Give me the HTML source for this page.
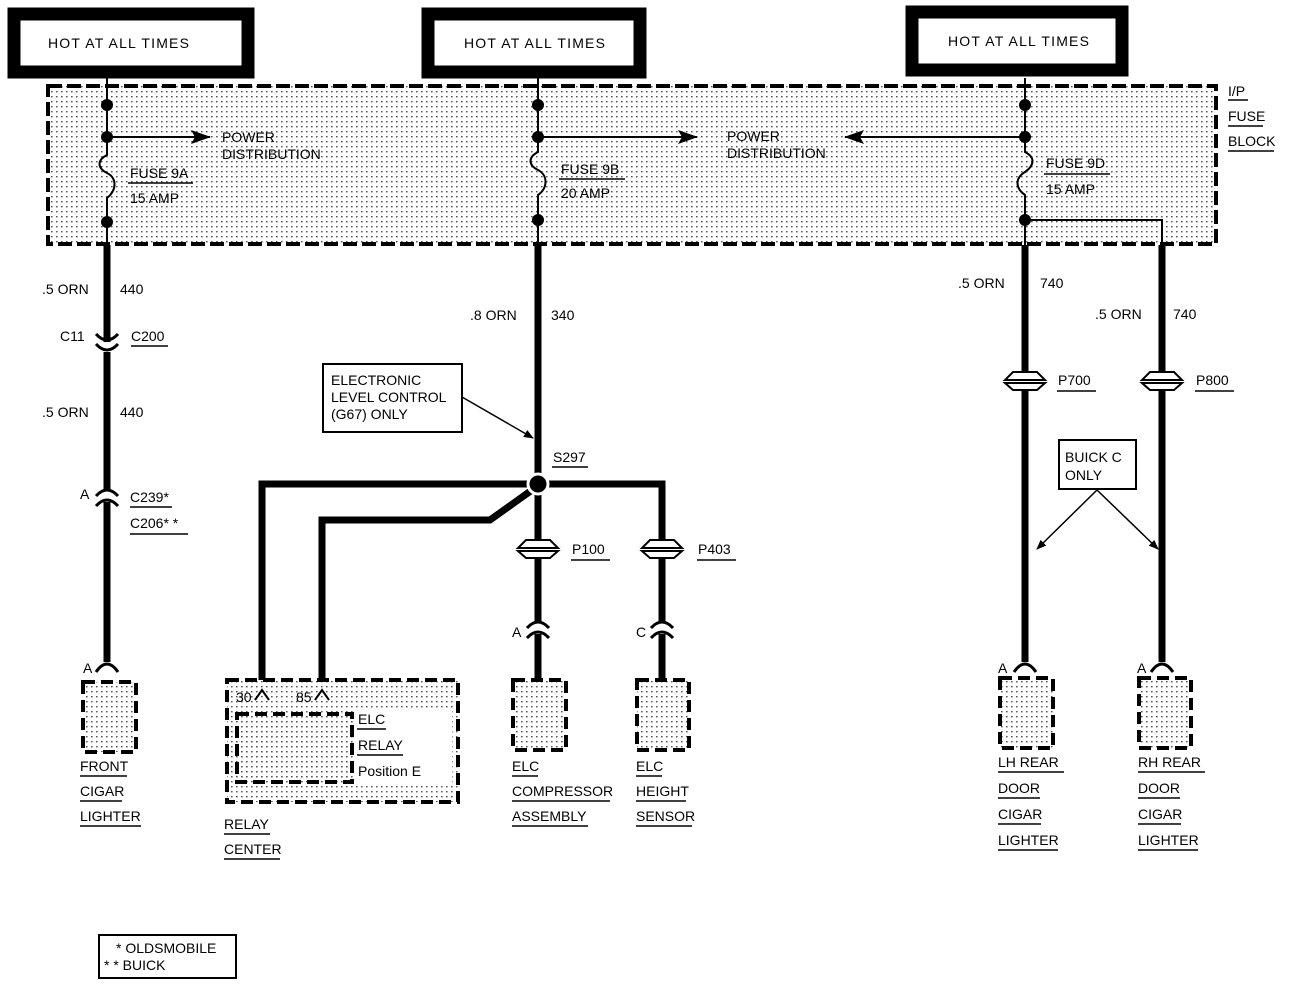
<!DOCTYPE html>
<html><head><meta charset="utf-8"><style>
html,body{margin:0;padding:0;background:#fff;}
svg{display:block;}
text{font-family:"Liberation Sans",sans-serif;font-size:14px;fill:#000;}
.hot{letter-spacing:1.2px;}
</style></head><body>
<svg width="1296" height="986" viewBox="0 0 1296 986" xmlns="http://www.w3.org/2000/svg">
<defs>
<pattern id="dots" width="5" height="5" patternUnits="userSpaceOnUse">
<rect x="1" y="1" width="1.6" height="1.4" fill="#555"/>
</pattern>
<marker id="ah" markerWidth="10" markerHeight="8" refX="9" refY="4" orient="auto" markerUnits="userSpaceOnUse"><path d="M0,0 L10,4 L0,8 z" fill="#000"/></marker>
<marker id="ahb" markerWidth="20" markerHeight="14" refX="19" refY="7" orient="auto" markerUnits="userSpaceOnUse"><path d="M0,0 L20,7 L0,14 L4,7 z" fill="#000"/></marker>
</defs>

<rect x="14" y="14" width="234" height="58" fill="#fff" stroke="#000" stroke-width="13"/>
<text class="hot" x="48" y="48">HOT AT ALL TIMES</text>
<rect x="428" y="14" width="212" height="58" fill="#fff" stroke="#000" stroke-width="13"/>
<text class="hot" x="464" y="48">HOT AT ALL TIMES</text>
<rect x="912" y="12" width="210" height="58" fill="#fff" stroke="#000" stroke-width="13"/>
<text class="hot" x="948" y="46">HOT AT ALL TIMES</text>

<rect x="48" y="86" width="1168" height="158" fill="url(#dots)" stroke="#000" stroke-width="4" stroke-dasharray="14,5"/>
<text x="1228" y="96">I/P</text><line x1="1228" y1="100" x2="1248" y2="100" stroke="#000" stroke-width="1.5"/>
<text x="1228" y="121">FUSE</text><line x1="1228" y1="126" x2="1263" y2="126" stroke="#000" stroke-width="1.5"/>
<text x="1228" y="146">BLOCK</text><line x1="1228" y1="151" x2="1274" y2="151" stroke="#000" stroke-width="1.5"/>

<g stroke="#000" stroke-width="2" fill="none">
<path d="M107,78 V155 C97,160 97,168 107,173 C117,178 117,190 107,198 V245"/>
<path d="M538,78 V152 C528,157 528,165 538,170 C548,175 548,188 538,195 V245"/>
<path d="M1025,78 V152 C1035,157 1035,165 1025,172 C1015,178 1015,188 1025,195 V245"/>
<path d="M1025,220 H1162 V245"/>
<line x1="107" y1="137" x2="210" y2="137" marker-end="url(#ahb)"/>
<line x1="538" y1="137" x2="697" y2="137" marker-end="url(#ahb)"/>
<line x1="1025" y1="137" x2="845" y2="137" marker-end="url(#ahb)"/>
</g>
<g fill="#000">
<circle cx="107" cy="105" r="6"/><circle cx="107" cy="137" r="6"/><circle cx="107" cy="222" r="6"/>
<circle cx="538" cy="105" r="6"/><circle cx="538" cy="137" r="6"/><circle cx="538" cy="220" r="6"/>
<circle cx="1025" cy="105" r="6"/><circle cx="1025" cy="137" r="6"/><circle cx="1025" cy="220" r="6"/>
</g>
<text x="222" y="142">POWER</text><text x="222" y="159">DISTRIBUTION</text>
<text x="727" y="141">POWER</text><text x="727" y="158">DISTRIBUTION</text>
<text x="130" y="178">FUSE 9A</text><line x1="128" y1="183" x2="193" y2="183" stroke="#000" stroke-width="1.5"/>
<text x="130" y="203">15 AMP</text>
<text x="561" y="174">FUSE 9B</text><line x1="559" y1="179" x2="625" y2="179" stroke="#000" stroke-width="1.5"/>
<text x="561" y="198">20 AMP</text>
<text x="1046" y="168">FUSE 9D</text><line x1="1044" y1="174" x2="1110" y2="174" stroke="#000" stroke-width="1.5"/>
<text x="1046" y="194">15 AMP</text>

<g stroke="#000" stroke-width="7" fill="none">
<line x1="107" y1="245" x2="107" y2="342"/>
<line x1="107" y1="352" x2="107" y2="490"/>
<line x1="107" y1="502" x2="107" y2="662"/>
<line x1="538" y1="245" x2="538" y2="484"/>
<path d="M538,484 H262 V680"/>
<path d="M532,490 L490,520 H322 V680"/>
<path d="M538,484 H662 V540"/>
<line x1="538" y1="484" x2="538" y2="540"/>
<line x1="538" y1="558" x2="538" y2="622"/>
<line x1="662" y1="558" x2="662" y2="622"/>
<line x1="538" y1="634" x2="538" y2="680"/>
<line x1="662" y1="634" x2="662" y2="680"/>
<line x1="1025" y1="245" x2="1025" y2="372"/>
<line x1="1025" y1="390" x2="1025" y2="662"/>
<line x1="1162" y1="245" x2="1162" y2="372"/>
<line x1="1162" y1="390" x2="1162" y2="662"/>
</g>
<circle cx="538" cy="484" r="10" fill="#000" stroke="#fff" stroke-width="3"/>

<g stroke="#000" stroke-width="3" fill="none">
<path d="M96,334 Q107,346 118,334"/><path d="M96,344 Q107,356 118,344"/>
<path d="M96,496 Q107,484 118,496"/><path d="M96,506 Q107,494 118,506"/>
<path d="M527,628 Q538,616 549,628"/><path d="M527,638 Q538,626 549,638"/>
<path d="M651,628 Q662,616 673,628"/><path d="M651,638 Q662,626 673,638"/>
<path d="M96,672 Q107,656 118,672"/>
<path d="M1014,672 Q1025,656 1036,672"/>
<path d="M1151,672 Q1162,656 1173,672"/>
</g>
<g stroke="#000" stroke-width="2" fill="#fff">
<path d="M526,540 H550 L558,548 H518 Z"/><path d="M518,551 H558 L550,558 H526 Z"/>
<path d="M650,540 H674 L682,548 H642 Z"/><path d="M642,551 H682 L674,558 H650 Z"/>
<path d="M1013,372 H1037 L1045,380 H1005 Z"/><path d="M1005,383 H1045 L1037,390 H1013 Z"/>
<path d="M1150,372 H1174 L1182,380 H1142 Z"/><path d="M1142,383 H1182 L1174,390 H1150 Z"/>
</g>

<text x="42" y="294">.5 ORN</text><text x="120" y="294">440</text>
<text x="60" y="341">C11</text><text x="131" y="341">C200</text><line x1="131" y1="346" x2="168" y2="346" stroke="#000" stroke-width="1.5"/>
<text x="42" y="417">.5 ORN</text><text x="120" y="417">440</text>
<text x="80" y="499">A</text>
<text x="130" y="502">C239*</text><line x1="130" y1="507" x2="172" y2="507" stroke="#000" stroke-width="1.5"/>
<text x="130" y="528">C206* *</text><line x1="130" y1="534" x2="188" y2="534" stroke="#000" stroke-width="1.5"/>
<text x="470" y="320">.8 ORN</text><text x="551" y="320">340</text>
<text x="958" y="288">.5 ORN</text><text x="1040" y="288">740</text>
<text x="1095" y="319">.5 ORN</text><text x="1173" y="319">740</text>
<text x="553" y="462">S297</text><line x1="552" y1="467" x2="588" y2="467" stroke="#000" stroke-width="1.5"/>
<text x="572" y="554">P100</text><line x1="571" y1="560" x2="610" y2="560" stroke="#000" stroke-width="1.5"/>
<text x="698" y="554">P403</text><line x1="697" y1="560" x2="736" y2="560" stroke="#000" stroke-width="1.5"/>
<text x="1058" y="385">P700</text><line x1="1057" y1="391" x2="1096" y2="391" stroke="#000" stroke-width="1.5"/>
<text x="1196" y="385">P800</text><line x1="1195" y1="391" x2="1234" y2="391" stroke="#000" stroke-width="1.5"/>
<text x="512" y="637">A</text><text x="636" y="637">C</text>
<text x="83" y="673">A</text><text x="998" y="673">A</text><text x="1137" y="673">A</text>

<rect x="323" y="364" width="139" height="68" fill="#fff" stroke="#000" stroke-width="2"/>
<text x="331" y="385">ELECTRONIC</text><text x="331" y="402">LEVEL CONTROL</text><text x="331" y="419">(G67) ONLY</text>
<line x1="462" y1="397" x2="533" y2="438" stroke="#000" stroke-width="1.5" marker-end="url(#ah)"/>
<rect x="1059" y="440" width="77" height="49" fill="#fff" stroke="#000" stroke-width="2"/>
<text x="1065" y="462">BUICK C</text><text x="1065" y="480">ONLY</text>
<line x1="1097" y1="490" x2="1037" y2="549" stroke="#000" stroke-width="1.5" marker-end="url(#ah)"/>
<line x1="1097" y1="490" x2="1158" y2="549" stroke="#000" stroke-width="1.5" marker-end="url(#ah)"/>

<g stroke="#000" stroke-width="4" stroke-dasharray="12,6" fill="url(#dots)">
<rect x="83" y="682" width="53" height="70"/>
<rect x="513" y="680" width="53" height="70"/>
<rect x="637" y="680" width="52" height="70"/>
<rect x="1000" y="678" width="53" height="70"/>
<rect x="1139" y="678" width="52" height="70"/>
<rect x="227" y="680" width="231" height="122"/>
<rect x="237" y="714" width="115" height="68"/>
</g>
<rect x="356" y="708" width="96" height="76" fill="#fff"/>
<g stroke="#000" stroke-width="2" fill="none">
<path d="M255,700 L262,690 L269,700"/><path d="M315,700 L322,690 L329,700"/>
</g>
<text x="236" y="702">30</text><text x="296" y="702">85</text>
<text x="358" y="724">ELC</text><line x1="357" y1="729" x2="386" y2="729" stroke="#000" stroke-width="1.5"/>
<text x="358" y="750">RELAY</text><line x1="357" y1="755" x2="403" y2="755" stroke="#000" stroke-width="1.5"/>
<text x="358" y="776">Position E</text>

<g>
<text x="80" y="771">FRONT</text><line x1="80" y1="776" x2="127" y2="776" stroke="#000" stroke-width="1.5"/>
<text x="80" y="796">CIGAR</text><line x1="80" y1="801" x2="122" y2="801" stroke="#000" stroke-width="1.5"/>
<text x="80" y="821">LIGHTER</text><line x1="80" y1="826" x2="141" y2="826" stroke="#000" stroke-width="1.5"/>
<text x="224" y="829">RELAY</text><line x1="224" y1="834" x2="270" y2="834" stroke="#000" stroke-width="1.5"/>
<text x="224" y="854">CENTER</text><line x1="224" y1="859" x2="280" y2="859" stroke="#000" stroke-width="1.5"/>
<text x="512" y="771">ELC</text><line x1="512" y1="776" x2="538" y2="776" stroke="#000" stroke-width="1.5"/>
<text x="512" y="796">COMPRESSOR</text><line x1="512" y1="801" x2="610" y2="801" stroke="#000" stroke-width="1.5"/>
<text x="512" y="821">ASSEMBLY</text><line x1="512" y1="826" x2="588" y2="826" stroke="#000" stroke-width="1.5"/>
<text x="636" y="771">ELC</text><line x1="636" y1="776" x2="662" y2="776" stroke="#000" stroke-width="1.5"/>
<text x="636" y="796">HEIGHT</text><line x1="636" y1="801" x2="686" y2="801" stroke="#000" stroke-width="1.5"/>
<text x="636" y="821">SENSOR</text><line x1="636" y1="826" x2="692" y2="826" stroke="#000" stroke-width="1.5"/>
<text x="998" y="767">LH REAR</text><line x1="998" y1="772" x2="1064" y2="772" stroke="#000" stroke-width="1.5"/>
<text x="998" y="793">DOOR</text><line x1="998" y1="798" x2="1040" y2="798" stroke="#000" stroke-width="1.5"/>
<text x="998" y="819">CIGAR</text><line x1="998" y1="824" x2="1041" y2="824" stroke="#000" stroke-width="1.5"/>
<text x="998" y="845">LIGHTER</text><line x1="998" y1="850" x2="1058" y2="850" stroke="#000" stroke-width="1.5"/>
<text x="1138" y="767">RH REAR</text><line x1="1138" y1="772" x2="1205" y2="772" stroke="#000" stroke-width="1.5"/>
<text x="1138" y="793">DOOR</text><line x1="1138" y1="798" x2="1180" y2="798" stroke="#000" stroke-width="1.5"/>
<text x="1138" y="819">CIGAR</text><line x1="1138" y1="824" x2="1181" y2="824" stroke="#000" stroke-width="1.5"/>
<text x="1138" y="845">LIGHTER</text><line x1="1138" y1="850" x2="1198" y2="850" stroke="#000" stroke-width="1.5"/>
</g>

<rect x="99" y="935" width="137" height="43" fill="#fff" stroke="#000" stroke-width="2"/>
<text x="116" y="953">* OLDSMOBILE</text>
<text x="104" y="970">* * BUICK</text>
</svg>
</body></html>
